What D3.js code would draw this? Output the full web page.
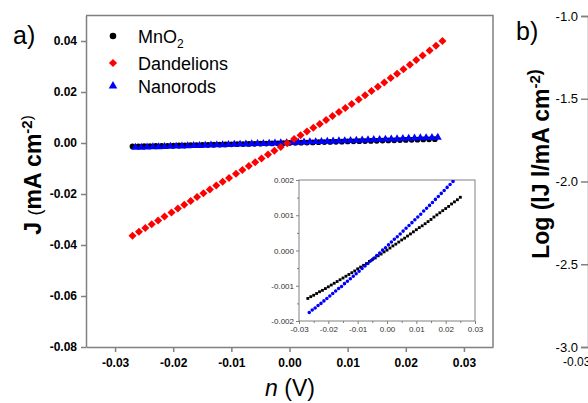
<!DOCTYPE html>
<html>
<head>
<meta charset="utf-8">
<script src="https://cdn.jsdelivr.net/npm/d3@7"></script>
<style>
body { margin: 0; background: #fff; }
svg { display: block; font-family: Arial, "Liberation Sans", sans-serif; }
</style>
</head>
<body>
<div id="chart"></div>
<script>
// MnO2 (black circles)
const mno2V = [-0.027,-0.026,-0.025,-0.024,-0.023,-0.022,-0.021,-0.020,-0.019,-0.018,-0.017,-0.016,-0.015,-0.014,-0.013,-0.012,-0.011,-0.010,-0.009,-0.008,-0.007,-0.006,-0.005,-0.004,-0.003,-0.002,-0.001,0.000,0.001,0.002,0.003,0.004,0.005,0.006,0.007,0.008,0.009,0.010,0.011,0.012,0.013,0.014,0.015,0.016,0.017,0.018,0.019,0.020,0.021,0.022,0.023,0.024,0.025];
const mno2J = [-0.00136,-0.00131,-0.00127,-0.00122,-0.00117,-0.00113,-0.00108,-0.00103,-0.00098,-0.00093,-0.00088,-0.00083,-0.00078,-0.00073,-0.00068,-0.00063,-0.00058,-0.00052,-0.00047,-0.00042,-0.00037,-0.00031,-0.00026,-0.00021,-0.00015,-0.00010,-0.00004,0.00001,0.00007,0.00013,0.00018,0.00024,0.00030,0.00035,0.00041,0.00047,0.00053,0.00059,0.00065,0.00070,0.00076,0.00082,0.00088,0.00095,0.00101,0.00107,0.00113,0.00119,0.00125,0.00132,0.00138,0.00144,0.00151];

// Nanorods (blue triangles)
const rodsV = [-0.0265,-0.0255,-0.0245,-0.0235,-0.0225,-0.0215,-0.0205,-0.0195,-0.0185,-0.0175,-0.0165,-0.0155,-0.0145,-0.0135,-0.0125,-0.0115,-0.0105,-0.0095,-0.0085,-0.0075,-0.0065,-0.0055,-0.0045,-0.0035,-0.0025,-0.0015,-0.0005,0.0005,0.0015,0.0025,0.0035,0.0045,0.0055,0.0065,0.0075,0.0085,0.0095,0.0105,0.0115,0.0125,0.0135,0.0145,0.0155,0.0165,0.0175,0.0185,0.0195,0.0205,0.0215,0.0225,0.0235,0.0245,0.0255];
const rodsJ = [-0.00176,-0.00169,-0.00163,-0.00156,-0.00150,-0.00143,-0.00136,-0.00129,-0.00122,-0.00115,-0.00108,-0.00102,-0.00094,-0.00087,-0.00080,-0.00073,-0.00066,-0.00059,-0.00051,-0.00044,-0.00037,-0.00029,-0.00022,-0.00014,-0.00007,0.00001,0.00008,0.00016,0.00024,0.00032,0.00039,0.00047,0.00055,0.00063,0.00071,0.00079,0.00087,0.00095,0.00103,0.00112,0.00120,0.00128,0.00136,0.00145,0.00153,0.00162,0.00170,0.00179,0.00187,0.00196,0.00205,0.00213,0.00222];

// Dandelions (red diamonds)
const dandV = [-0.0270,-0.0259,-0.0248,-0.0237,-0.0226,-0.0215,-0.0203,-0.0192,-0.0181,-0.0170,-0.0159,-0.0148,-0.0137,-0.0126,-0.0115,-0.0104,-0.0092,-0.0081,-0.0070,-0.0059,-0.0048,-0.0037,-0.0026,-0.0015,-0.0004,0.0008,0.0019,0.0030,0.0041,0.0052,0.0063,0.0074,0.0085,0.0096,0.0107,0.0119,0.0130,0.0141,0.0152,0.0163,0.0174,0.0185,0.0196,0.0207,0.0218,0.0229,0.0241,0.0252,0.0263];
const dandJ = [-0.03636,-0.03485,-0.03335,-0.03185,-0.03035,-0.02885,-0.02721,-0.02571,-0.02421,-0.02271,-0.02120,-0.01970,-0.01820,-0.01670,-0.01520,-0.01370,-0.01206,-0.01056,-0.00906,-0.00755,-0.00605,-0.00455,-0.00305,-0.00155,-0.00005,0.00155,0.00300,0.00447,0.00596,0.00747,0.00900,0.01054,0.01211,0.01369,0.01529,0.01706,0.01870,0.02037,0.02204,0.02374,0.02546,0.02719,0.02895,0.03072,0.03251,0.03432,0.03631,0.03816,0.04003];

// ticks
const xTicks = [-0.03, -0.02, -0.01, 0, 0.01, 0.02, 0.03];
const yTicks = [-0.08, -0.06, -0.04, -0.02, 0, 0.02, 0.04];
const insetXTicks = [-0.03, -0.02, -0.01, 0, 0.01, 0.02, 0.03];
const insetXMinor = [-0.025, -0.015, -0.005, 0.005, 0.015, 0.025];
const insetYTicks = [-0.002, -0.001, 0, 0.001, 0.002];
const insetYMinor = [-0.0015, -0.0005, 0.0005, 0.0015];
const logTicks = [-3.0, -2.5, -2.0, -1.5, -1.0];
const legendNames = ["MnO", "Dandelions", "Nanorods"];

const W = 588, H = 403;
const axisGray = "#808080";

const svg = d3.select("#chart").append("svg")
    .attr("width", W)
    .attr("height", H);

// main panel scales
const x = d3.scaleLinear().domain([-0.035, 0.035]).range([86, 493]);
const y = d3.scaleLinear().domain([-0.08, 0.05]).range([347, 15.5]);

function styleAxis(g, fontSize, weight) {
    g.attr("font-family", null);
    g.select(".domain").attr("stroke", axisGray).attr("stroke-width", 1.5);
    g.selectAll(".tick line").attr("stroke", axisGray).attr("stroke-width", 1.5);
    g.selectAll(".tick text")
        .attr("fill", "#000")
        .style("font-size", fontSize + "px")
        .style("font-weight", weight);
}

// frame top and right
svg.append("path")
    .attr("d", `M${x.range()[0]},${y.range()[1]}H${x.range()[1]}V${y.range()[0]}`)
    .attr("fill", "none")
    .attr("stroke", axisGray)
    .attr("stroke-width", 1.5);

// X axis
svg.append("g")
    .attr("transform", `translate(0,${y.range()[0]})`)
    .call(d3.axisBottom(x).tickValues(xTicks).tickFormat(d => d.toFixed(2))
        .tickSize(5).tickSizeOuter(0).tickPadding(6))
    .call(g => styleAxis(g, 12, "bold"));

// Y axis
svg.append("g")
    .attr("transform", `translate(${x.range()[0]},0)`)
    .call(d3.axisLeft(y).tickValues(yTicks).tickFormat(d => d.toFixed(2))
        .tickSize(5).tickSizeOuter(0).tickPadding(4))
    .call(g => styleAxis(g, 12, "bold"));

// data points: black, blue, red
const circle = d3.symbol().type(d3.symbolCircle);
const tri = d3.symbol().type(d3.symbolTriangle);
const square = d3.symbol().type(d3.symbolSquare);

svg.append("g").selectAll("path")
    .data(d3.zip(mno2V, mno2J))
    .join("path")
    .attr("transform", d => `translate(${x(d[0])},${y(d[1])})`)
    .attr("d", circle.size(26)())
    .attr("fill", "#000");

svg.append("g").selectAll("path")
    .data(d3.zip(rodsV, rodsJ))
    .join("path")
    .attr("transform", d => `translate(${x(d[0])},${y(d[1])})`)
    .attr("d", tri.size(28)())
    .attr("fill", "#0000ff");

svg.append("g").selectAll("path")
    .data(d3.zip(dandV, dandJ))
    .join("path")
    .attr("transform", d => `translate(${x(d[0])},${y(d[1])}) rotate(45)`)
    .attr("d", square.size(32)())
    .attr("fill", "#ff0000");

// legend
const legendMarks = [
    { d: d3.symbol().type(d3.symbolCircle).size(34)(), color: "#000", rot: 0 },
    { d: d3.symbol().type(d3.symbolSquare).size(34)(), color: "#ff0000", rot: 45 },
    { d: d3.symbol().type(d3.symbolTriangle).size(32)(), color: "#0000ff", rot: 0 }
];
const legendY = [36, 63, 86];
const legend = svg.append("g");
legendNames.forEach((name, i) => {
    legend.append("path")
        .attr("transform", `translate(113,${legendY[i]}) rotate(${legendMarks[i].rot})`)
        .attr("d", legendMarks[i].d)
        .attr("fill", legendMarks[i].color);
    const t = legend.append("text")
        .attr("x", 138)
        .attr("y", legendY[i] + 6.5)
        .style("font-size", "18px")
        .text(name);
    if (i === 0) {
        t.append("tspan").attr("dy", 5).style("font-size", "12px").text("2");
    }
});

// axis titles
const yTitle = svg.append("text")
    .attr("transform", "translate(41,175) rotate(-90)")
    .attr("text-anchor", "middle")
    .style("font-size", "23px")
    .style("font-weight", "bold");
yTitle.append("tspan").text("J ");
yTitle.append("tspan").style("font-weight", "normal").style("font-size", "18px").text("(");
yTitle.append("tspan").text("mA cm");
yTitle.append("tspan").attr("dy", -9).style("font-size", "15px").text("-2");
yTitle.append("tspan").attr("dy", 0).style("font-weight", "normal").style("font-size", "15px").text(")");

const xTitle = svg.append("text")
    .attr("x", 290)
    .attr("y", 396)
    .attr("text-anchor", "middle")
    .style("font-size", "23px");
xTitle.append("tspan").style("font-style", "italic").text("n");
xTitle.append("tspan").text(" (V)");

svg.append("text").attr("x", 13).attr("y", 44).style("font-size", "25px").text("a)");
svg.append("text").attr("x", 516).attr("y", 40).style("font-size", "25px").text("b)");

// inset
const ix = d3.scaleLinear().domain([-0.03, 0.03]).range([299, 475]);
const iy = d3.scaleLinear().domain([-0.002, 0.002]).range([321, 180]);

svg.append("defs").append("clipPath").attr("id", "insetClip")
    .append("rect")
    .attr("x", ix.range()[0]).attr("y", iy.range()[1])
    .attr("width", ix.range()[1] - ix.range()[0])
    .attr("height", iy.range()[0] - iy.range()[1]);

svg.append("rect")
    .attr("x", ix.range()[0]).attr("y", iy.range()[1])
    .attr("width", ix.range()[1] - ix.range()[0])
    .attr("height", iy.range()[0] - iy.range()[1])
    .attr("fill", "#fff")
    .attr("stroke", axisGray)
    .attr("stroke-width", 1);

function styleInset(g) {
    g.attr("font-family", null);
    g.select(".domain").remove();
    g.selectAll(".tick line").attr("stroke", axisGray);
    g.selectAll(".tick text").attr("fill", "#333").style("font-size", "8px");
}

svg.append("g")
    .attr("transform", `translate(0,${iy.range()[0]})`)
    .call(d3.axisBottom(ix).tickValues(insetXTicks).tickFormat(d => d.toFixed(2)).tickSize(3).tickPadding(2))
    .call(styleInset);
svg.append("g")
    .attr("transform", `translate(0,${iy.range()[0]})`)
    .call(d3.axisBottom(ix).tickValues(insetXMinor).tickFormat("").tickSize(2))
    .call(styleInset);
svg.append("g")
    .attr("transform", `translate(${ix.range()[0]},0)`)
    .call(d3.axisLeft(iy).tickValues(insetYTicks).tickFormat(d => d.toFixed(3)).tickSize(3).tickPadding(2))
    .call(styleInset);
svg.append("g")
    .attr("transform", `translate(${ix.range()[0]},0)`)
    .call(d3.axisLeft(iy).tickValues(insetYMinor).tickFormat("").tickSize(2))
    .call(styleInset);

const insetPts = svg.append("g").attr("clip-path", "url(#insetClip)");
insetPts.append("g").selectAll("path")
    .data(d3.zip(mno2V, mno2J))
    .join("path")
    .attr("transform", d => `translate(${ix(d[0])},${iy(d[1])})`)
    .attr("d", d3.symbol().type(d3.symbolSquare).size(8)())
    .attr("fill", "#000");
insetPts.append("g").selectAll("path")
    .data(d3.zip(rodsV, rodsJ))
    .join("path")
    .attr("transform", d => `translate(${ix(d[0])},${iy(d[1])})`)
    .attr("d", d3.symbol().type(d3.symbolCircle).size(10)())
    .attr("fill", "#0000ff");

// panel b (cut off at the right edge)
const yb = d3.scaleLinear().domain([-3.0, -1.0]).range([347, 16]);
svg.append("g")
    .attr("transform", `translate(588,0)`)
    .call(d3.axisLeft(yb).tickValues(logTicks).tickFormat(d => d.toFixed(1)).tickSize(7).tickPadding(3))
    .call(g => styleAxis(g, 13, "normal"));

svg.append("text")
    .attr("x", 563)
    .attr("y", 366)
    .style("font-size", "12px")
    .text("-0.03");

const bTitle = svg.append("text")
    .attr("transform", "translate(549,164) rotate(-90)")
    .attr("text-anchor", "middle")
    .style("font-size", "23px")
    .style("font-weight", "bold");
bTitle.append("tspan").text("Log (lJ l/mA cm");
bTitle.append("tspan").attr("dy", -9).style("font-size", "15px").text("-2");
bTitle.append("tspan").style("font-size", "18px").text(")");
</script>
</body>
</html>
